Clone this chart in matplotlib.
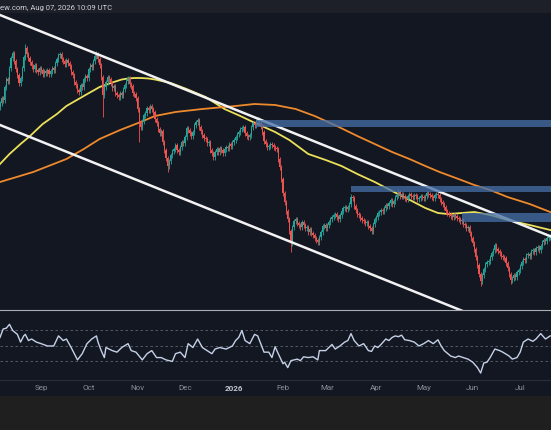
import numpy as np
import pandas as pd
import matplotlib
matplotlib.use("Agg")
import matplotlib.pyplot as plt
import matplotlib.dates as mdates
from matplotlib.patches import Rectangle

# daily closes, first candle on 2025-08-06
start = pd.Timestamp("2025-08-06")
first_open = 392
closes = [
    396, 401, 399, 412, 420, 418, 431, 441, 446, 438,
    430, 424, 416, 421, 431, 442, 451, 445, 441, 437,
    433, 430, 434, 429, 427, 431, 429, 425, 428, 426,
    429, 425, 428, 431, 429, 436, 440, 444, 445, 440,
    438, 435, 439, 436, 433, 427, 424, 417, 414, 409,
    407, 414, 412, 420, 423, 421, 430, 434, 432, 438,
    443, 445, 440, 434, 422, 404, 412, 417, 422, 420,
    416, 411, 413, 406, 404, 402, 406, 404, 410, 414,
    418, 421, 415, 413, 406, 405, 401, 390, 377, 372,
    378, 384, 386, 391, 389, 393, 390, 387, 380, 376,
    370, 366, 368, 357, 349, 341, 333, 338, 344, 348,
    350, 354, 349, 347, 352, 357, 356, 362, 371, 369,
    366, 363, 367, 374, 377, 379, 372, 368, 364, 361,
    360, 356, 357, 349, 346, 342, 347, 350, 347, 351,
    349, 346, 350, 352, 351, 355, 353, 357, 359, 362,
    365, 367, 370, 371, 372, 366, 363, 362, 364, 372,
    376, 374, 378, 380, 376, 373, 367, 358, 355, 352,
    353, 355, 354, 352, 351, 350, 340, 332, 320, 306,
    297, 288, 280, 268, 256, 272, 278, 280, 276, 274,
    272, 277, 274, 271, 272, 267, 270, 266, 264, 261,
    259, 257, 262, 267, 273, 274, 271, 274, 277, 280,
    282, 284, 285, 282, 280, 284, 288, 291, 292, 290,
    292, 295, 302, 301, 293, 289, 285, 284, 281, 279,
    278, 276, 277, 273, 271, 268, 275, 280, 282, 286,
    287, 289, 288, 291, 294, 293, 296, 299, 295, 298,
    302, 304, 307, 303, 305, 303, 301, 300, 303, 305,
    303, 302, 304, 303, 300, 301, 303, 302, 301, 303,
    306, 305, 304, 302, 301, 304, 305, 304, 300, 297,
    295, 292, 288, 286, 285, 283, 282, 284, 283, 281,
    280, 278, 279, 275, 274, 271, 272, 266, 261, 256,
    250, 242, 234, 225, 218, 224, 230, 235, 237, 238,
    242, 246, 249, 254, 250, 248, 246, 243, 242, 241,
    236, 231, 225, 219, 221, 224, 222, 227, 229, 233,
    237, 240, 239, 244, 245, 243, 248, 249, 247, 251,
    252, 249, 253, 257, 259, 258, 261, 262, 263,
]
# long wicks that stand out (day index -> price)
wick_highs = {16: 455, 61: 448, 222: 305, 252: 310}
wick_lows = {65: 382, 88: 357, 106: 327, 184: 247, 304: 213, 323: 215}

# moving averages (day index, value)
ma_fast_days = [0, 6, 13, 19, 27, 36, 42, 53, 63, 72, 77, 81, 85, 89, 94, 98, 108, 118, 130,
                142, 152, 160, 174, 183, 195, 206, 216, 226, 237, 248, 258, 269, 277, 283,
                288, 300, 310, 321, 335, 348]
ma_fast = [335, 345, 355, 363, 375, 385, 393, 403, 412, 417, 419.5, 420.5, 421, 421, 420.5,
           419.5, 416, 410, 402, 390, 383, 377, 367, 359, 345, 339, 333, 325, 317, 308, 300,
           291, 286, 285, 285.5, 287, 284, 279, 274, 269]
ma_slow_days = [0, 21, 42, 53, 63, 76, 89, 98, 111, 128, 149, 161, 174, 187, 199, 213, 226, 237,
                248, 259, 269, 278, 290, 300, 310, 321, 335, 348]
ma_slow = [317, 327, 340, 350, 360, 369, 377, 383, 387, 390, 393, 395, 394, 390, 383, 373, 363,
           355, 347, 340, 333, 327, 320, 314, 309, 302, 295, 287]

# channel lines (day index, price)
upper_days, upper_vals = [0, 348.5], [484, 262.5]
lower_days, lower_vals = [0, 348.5], [374, 152.5]

# horizontal zones: (start day, low, high)
zones = [(162, 372, 379), (222, 307, 313), (292, 277, 286)]

# RSI
rsi_days = [0, 2, 4, 6, 8, 11, 13, 15, 16, 18,
            20, 23, 26, 30, 34, 37, 40, 42, 45, 47,
            49, 52, 55, 58, 61, 62, 64, 66, 67, 71,
            74, 77, 81, 83, 86, 90, 93, 96, 99, 102,
            105, 109, 111, 114, 117, 119, 122, 125, 128, 131,
            134, 136, 139, 143, 147, 149, 151, 153, 155, 158,
            161, 163, 167, 170, 172, 174, 176, 179, 180, 182,
            184, 188, 190, 192, 195, 198, 201, 202, 206, 208,
            210, 212, 215, 218, 220, 222, 224, 227, 230, 233,
            235, 237, 239, 241, 244, 246, 248, 250, 252, 254,
            256, 259, 262, 265, 268, 271, 274, 277, 279, 281,
            285, 288, 290, 293, 296, 299, 302, 304, 306, 308,
            310, 313, 316, 318, 322, 324, 327, 329, 331, 334,
            337, 339, 342, 345, 348]
rsi_vals = [61, 72, 73, 78, 70, 65, 55, 63, 65, 57,
            59, 55, 53, 50, 50, 63, 57, 59, 48, 40,
            32, 40, 53, 59, 63, 55, 44, 35, 48, 44,
            42, 48, 53, 44, 42, 32, 40, 44, 35, 35,
            32, 30, 40, 42, 35, 53, 48, 59, 48, 44,
            40, 46, 48, 46, 50, 57, 61, 70, 57, 53,
            65, 63, 42, 42, 35, 49, 40, 27, 29, 22,
            31, 33, 31, 36, 35, 36, 32, 44, 44, 48,
            52, 46, 50, 55, 57, 66, 57, 50, 53, 44,
            43, 50, 48, 52, 59, 57, 61, 63, 62, 64,
            58, 57, 55, 50, 53, 57, 53, 58, 50, 44,
            37, 35, 37, 35, 33, 29, 22, 15, 28, 29,
            35, 46, 44, 42, 37, 33, 35, 42, 55, 59,
            56, 59, 66, 59, 63]
rsi_levels = [70, 50, 30]

header = "ew.com, Aug 07, 2026 10:09 UTC"

BG = "#131722"
UP = "#26a69a"
DOWN = "#ef5350"


def to_x(days):
    return mdates.date2num(start + pd.to_timedelta(np.asarray(days, dtype=float), unit="D"))


H = 431.0


def box(top, bottom):
    return [0, 1 - bottom / H, 1, (bottom - top) / H]


fig = plt.figure(figsize=(5.51, 4.31), dpi=100, facecolor=BG)
fig.patches.append(Rectangle((0, 0), 1, 34 / H, transform=fig.transFigure,
                             facecolor="#1f1f1f", edgecolor="none", zorder=0))

# header strip
ax_top = fig.add_axes(box(0, 14))
ax_top.set_facecolor("#1e2029")
ax_top.set_xticks([])
ax_top.set_yticks([])
for s in ax_top.spines.values():
    s.set_visible(False)
ax_top.text(0.0, 0.45, header, transform=ax_top.transAxes, ha="left", va="center",
            fontsize=5.5, color="#d1d4dc", family="Roboto")

# price pane
ax = fig.add_axes(box(14, 311))
ax.set_facecolor(BG)
closes = np.array(closes, dtype=float)
opens = np.r_[first_open, closes[:-1]]
x = to_x(np.arange(len(closes)))
colors = np.where(closes >= opens, UP, DOWN)
lo_body = np.minimum(opens, closes)
hi_body = np.maximum(opens, closes)
highs = hi_body + 2.5
lows = lo_body - 2.5
for d, v in wick_highs.items():
    highs[d] = v
for d, v in wick_lows.items():
    lows[d] = v
ax.vlines(x, lows, highs, colors=colors, linewidth=0.6, zorder=4)
ax.bar(x, np.maximum(hi_body - lo_body, 1.0), width=0.75, bottom=lo_body,
       color=colors, linewidth=0, zorder=4.1)

ax.plot(to_x(ma_fast_days), ma_fast, color="#ebe05a", lw=1.3, zorder=2,
        solid_joinstyle="round")
ax.plot(to_x(ma_slow_days), ma_slow, color="#ee8a2c", lw=1.3, zorder=2,
        solid_joinstyle="round")
ax.plot(to_x(upper_days), upper_vals, color="#f2f2f2", lw=1.8, zorder=5)
ax.plot(to_x(lower_days), lower_vals, color="#f2f2f2", lw=1.8, zorder=5)
for d0, lo, hi in zones:
    ax.fill_between(to_x([d0, 360]), lo, hi, color="#4570a8", alpha=0.75,
                    linewidth=0, zorder=6)

ax.set_xlim(to_x(0), to_x(348.5))
ax.set_ylim(189, 486)
ax.set_xticks([])
ax.set_yticks([])
for s in ax.spines.values():
    s.set_visible(False)

# RSI pane
ax_rsi = fig.add_axes(box(311, 381), sharex=ax)
ax_rsi.set_facecolor(BG)
ax_rsi.plot(to_x(rsi_days), rsi_vals, color="#c5d1e6", lw=1.0, zorder=3)
for lvl in rsi_levels:
    ax_rsi.axhline(lvl, color="#5f636f", lw=0.6, ls=(0, (3, 3)), zorder=1)
ax_rsi.set_ylim(6, 96.5)
ax_rsi.set_yticks([])
for name, s in ax_rsi.spines.items():
    s.set_visible(name in ("top", "bottom"))
ax_rsi.spines["top"].set_color("#a9acb4")
ax_rsi.spines["top"].set_linewidth(0.8)
ax_rsi.spines["bottom"].set_color("#2a2e39")
ax_rsi.spines["bottom"].set_linewidth(0.8)

months = pd.date_range(start, start + pd.Timedelta(days=348), freq="MS")
labels = [str(m.year) if m.month == 1 else m.strftime("%b") for m in months]
ax_rsi.set_xticks(mdates.date2num(months))
ax_rsi.set_xticklabels(labels)
ax_rsi.tick_params(axis="x", length=0, pad=3.0, labelsize=5.8, labelcolor="#8a8e99")
for t in ax_rsi.get_xticklabels():
    t.set_family("Roboto")
    if t.get_text().isdigit():
        t.set_fontweight("bold")
        t.set_color("#c3c6ce")
ax.set_xlim(to_x(0), to_x(348.5))

fig.savefig("out.png", dpi=100, facecolor=fig.get_facecolor())
